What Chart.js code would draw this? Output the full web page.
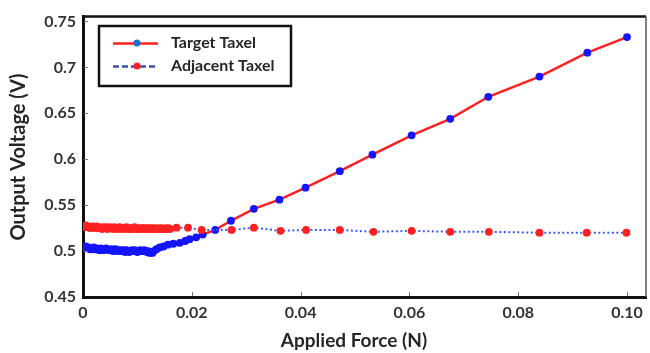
<!DOCTYPE html>
<html>
<head>
<meta charset="utf-8">
<script src="https://cdn.jsdelivr.net/npm/chart.js@4.4.1/dist/chart.umd.min.js"></script>
<style>
  html, body { margin: 0; padding: 0; background: #fff; }
  #wrap { width: 650px; height: 353px; position: relative; }
</style>
</head>
<body>
<div id="wrap"><canvas id="c" width="650" height="353"></canvas></div>
<script>
// ---- data ----
const targetForce = [
  0.0000, 0.00025, 0.0005, 0.00075, 0.0010, 0.00125, 0.0015, 0.00175, 0.0020, 0.00225,
  0.0025, 0.00275, 0.0030, 0.00325, 0.0035, 0.00375, 0.0040, 0.00425, 0.0045, 0.00475,
  0.0050, 0.00525, 0.0055, 0.00575, 0.0060, 0.00625, 0.0065, 0.00675, 0.0070, 0.00725,
  0.0075, 0.00775, 0.0080, 0.00825, 0.0085, 0.00875, 0.0090, 0.00925, 0.0095, 0.00975,
  0.0100, 0.01025, 0.0105, 0.01075, 0.0110, 0.01125, 0.0115, 0.01175, 0.0120, 0.01225,
  0.0125, 0.01275, 0.0130,
  0.0135, 0.0141, 0.0148, 0.0156, 0.0166, 0.0178, 0.0188, 0.0196, 0.0208, 0.0220,
  0.0243, 0.0272, 0.0314, 0.0361, 0.0409, 0.0472, 0.0532, 0.0604, 0.0675, 0.0745,
  0.0839, 0.0927, 0.1000
];
const targetVoltage = [
  0.504, 0.503, 0.505, 0.503, 0.504, 0.502, 0.503, 0.502, 0.504, 0.502,
  0.503, 0.502, 0.501, 0.503, 0.502, 0.501, 0.502, 0.503, 0.502, 0.501,
  0.501, 0.502, 0.500, 0.501, 0.502, 0.500, 0.501, 0.500, 0.501, 0.500,
  0.501, 0.499, 0.501, 0.500, 0.499, 0.500, 0.501, 0.500, 0.501, 0.500,
  0.499, 0.500, 0.501, 0.500, 0.500, 0.501, 0.500, 0.499, 0.500, 0.498,
  0.499, 0.498, 0.500,
  0.502, 0.504, 0.505, 0.507, 0.508, 0.509, 0.511, 0.513, 0.515, 0.518,
  0.523, 0.533, 0.546, 0.556, 0.569, 0.587, 0.605, 0.626, 0.644, 0.668,
  0.690, 0.716, 0.733
];
const adjacentForce = [
  0.0000, 0.00025, 0.0005, 0.00075, 0.0010, 0.00125, 0.0015, 0.00175, 0.0020, 0.00225,
  0.0025, 0.00275, 0.0030, 0.00325, 0.0035, 0.00375, 0.0040, 0.00425, 0.0045, 0.00475,
  0.0050, 0.00525, 0.0055, 0.00575, 0.0060, 0.00625, 0.0065, 0.00675, 0.0070, 0.00725,
  0.0075, 0.00775, 0.0080, 0.00825, 0.0085, 0.00875, 0.0090, 0.00925, 0.0095, 0.00975,
  0.0100, 0.01025, 0.0105, 0.01075, 0.0110, 0.01125, 0.0115, 0.01175, 0.0120, 0.01225,
  0.0125, 0.01275, 0.0130, 0.01325, 0.0135, 0.01375, 0.0140, 0.01425, 0.0145, 0.01475,
  0.0150, 0.01525, 0.0155, 0.01575, 0.0160,
  0.0172, 0.0193, 0.0218, 0.0273, 0.0314, 0.0363, 0.0410, 0.0472, 0.0534, 0.0604,
  0.0675, 0.0746, 0.0839, 0.0926, 0.0999
];
const adjacentVoltage = [
  0.527, 0.526, 0.528, 0.526, 0.527, 0.525, 0.526, 0.527, 0.525, 0.526,
  0.527, 0.525, 0.526, 0.525, 0.524, 0.526, 0.525, 0.526, 0.524, 0.525,
  0.526, 0.525, 0.524, 0.526, 0.525, 0.524, 0.525, 0.526, 0.524, 0.525,
  0.525, 0.524, 0.526, 0.525, 0.524, 0.525, 0.524, 0.525, 0.526, 0.524,
  0.525, 0.524, 0.525, 0.524, 0.525, 0.525, 0.524, 0.525, 0.524, 0.525,
  0.524, 0.525, 0.524, 0.525, 0.524, 0.524, 0.525, 0.524, 0.525, 0.524,
  0.524, 0.525, 0.524, 0.525, 0.524,
  0.5255, 0.5255, 0.523, 0.523, 0.5255, 0.522, 0.523, 0.523, 0.521, 0.522,
  0.521, 0.521, 0.520, 0.520, 0.520
];
const xTickValues = [0, 0.02, 0.04, 0.06, 0.08, 0.10];
const xTickLabels = ['0', '0.02', '0.04', '0.06', '0.08', '0.10'];
const yTickValues = [0.45, 0.5, 0.55, 0.6, 0.65, 0.7, 0.75];
const yTickLabels = ['0.45', '0.5', '0.55', '0.6', '0.65', '0.7', '0.75'];
const seriesNames = ['Target Taxel', 'Adjacent Taxel'];
const xTitle = 'Applied Force (N)';
const yTitle = 'Output Voltage (V)';

// ---- styling ----
const RED = '#ff2121';
const BLUE = '#1414ff';
const FONT = 'Lato, "Open Sans", sans-serif';

const toPts = (xs, ys) => xs.map((x, i) => ({ x: x, y: ys[i] }));

const framePlugin = {
  id: 'frame',
  afterDatasetsDraw(chart) {
    const { ctx, chartArea: a, scales: { x, y } } = chart;
    ctx.save();
    ctx.strokeStyle = '#777';
    ctx.lineWidth = 1;
    xTickValues.forEach(v => {
      if (v === 0) return;
      const px = Math.round(x.getPixelForValue(v)) + 0.5;
      ctx.beginPath(); ctx.moveTo(px, a.bottom - 1); ctx.lineTo(px, a.bottom - 5); ctx.stroke();
    });
    yTickValues.forEach(v => {
      if (v === 0.45) return;
      const py = Math.round(y.getPixelForValue(v)) + 0.5;
      ctx.beginPath(); ctx.moveTo(a.left + 1, py); ctx.lineTo(a.left + 5, py); ctx.stroke();
    });
    ctx.strokeStyle = '#111';
    ctx.lineWidth = 2.5;
    ctx.beginPath(); ctx.moveTo(a.left, a.top); ctx.lineTo(a.right, a.top); ctx.stroke();
    ctx.strokeStyle = '#555';
    ctx.lineWidth = 1.5;
    ctx.beginPath(); ctx.moveTo(a.right, a.top); ctx.lineTo(a.right, a.bottom); ctx.stroke();
    ctx.restore();
  },
  afterDraw(chart) {
    const ctx = chart.ctx;
    ctx.save();
    // axis titles
    ctx.fillStyle = '#262626';
    ctx.textAlign = 'center';
    ctx.textBaseline = 'middle';
    ctx.font = 'bold 19px ' + FONT;
    ctx.fillText(xTitle, 354, 341);
    ctx.save();
    ctx.translate(19, 157);
    ctx.rotate(-Math.PI / 2);
    ctx.font = 'bold 20px ' + FONT;
    ctx.fillText(yTitle, 0, 0);
    ctx.restore();
    // legend
    ctx.fillStyle = '#fff';
    ctx.fillRect(99, 26, 192, 60);
    ctx.strokeStyle = '#111';
    ctx.lineWidth = 2.5;
    ctx.strokeRect(99, 26, 192, 60);
    ctx.strokeStyle = RED; ctx.lineWidth = 2.5; ctx.setLineDash([]);
    ctx.beginPath(); ctx.moveTo(113, 43.5); ctx.lineTo(158, 43.5); ctx.stroke();
    ctx.fillStyle = '#1a6fd0';
    ctx.beginPath(); ctx.arc(137, 43, 3.5, 0, Math.PI * 2); ctx.fill();
    ctx.strokeStyle = '#3553a8'; ctx.lineWidth = 2.5; ctx.setLineDash([6, 3]);
    ctx.beginPath(); ctx.moveTo(113, 66.5); ctx.lineTo(158, 66.5); ctx.stroke();
    ctx.setLineDash([]);
    ctx.fillStyle = RED;
    ctx.beginPath(); ctx.arc(137, 66, 3.5, 0, Math.PI * 2); ctx.fill();
    ctx.fillStyle = '#262626';
    ctx.font = 'bold 16px ' + FONT;
    ctx.textAlign = 'left';
    ctx.fillText(seriesNames[0], 171, 43);
    ctx.fillText(seriesNames[1], 171, 66);
    ctx.restore();
  }
};

new Chart(document.getElementById('c'), {
  type: 'scatter',
  data: {
    datasets: [
      {
        label: seriesNames[0],
        data: toPts(targetForce, targetVoltage),
        showLine: true,
        borderColor: RED,
        borderWidth: 2.5,
        pointBackgroundColor: BLUE,
        pointBorderColor: BLUE,
        pointBorderWidth: 0,
        pointRadius: 3.9,
        tension: 0,
        order: 2
      },
      {
        label: seriesNames[1],
        data: toPts(adjacentForce, adjacentVoltage),
        showLine: true,
        borderColor: '#3b5bff',
        borderWidth: 2,
        borderDash: [2, 2.5],
        pointBackgroundColor: RED,
        pointBorderColor: RED,
        pointBorderWidth: 0,
        pointRadius: 3.9,
        tension: 0,
        order: 1
      }
    ]
  },
  options: {
    responsive: false,
    animation: false,
    devicePixelRatio: 1,
    layout: { padding: { top: 10, right: 3, left: 0, bottom: 0 } },
    plugins: { legend: { display: false }, tooltip: { enabled: false } },
    scales: {
      x: {
        type: 'linear',
        min: 0,
        max: 0.10349,
        afterBuildTicks(s) { s.ticks = xTickValues.map(v => ({ value: v })); },
        afterFit(s) { s.height = 56; },
        grid: { display: false, drawTicks: false },
        border: { display: true, color: '#111', width: 3 },
        ticks: {
          padding: 6,
          color: '#333',
          font: { family: FONT, size: 16, weight: 'bold' },
          maxRotation: 0,
          autoSkip: false,
          callback(v) { const i = xTickValues.indexOf(v); return i >= 0 ? xTickLabels[i] : ''; }
        },
        title: { display: false, text: xTitle }
      },
      y: {
        type: 'linear',
        min: 0.45,
        max: 0.7553,
        afterBuildTicks(s) { s.ticks = yTickValues.map(v => ({ value: v })); },
        afterFit(s) { s.width = 83; },
        grid: { display: false, drawTicks: false },
        border: { display: true, color: '#111', width: 3 },
        ticks: {
          padding: 7,
          color: '#333',
          font: { family: FONT, size: 16, weight: 'bold' },
          autoSkip: false,
          callback(v) {
            const i = yTickValues.findIndex(t => Math.abs(t - v) < 1e-9);
            return i >= 0 ? yTickLabels[i] : '';
          }
        },
        title: { display: false, text: yTitle }
      }
    }
  },
  plugins: [framePlugin]
});
</script>
</body>
</html>
